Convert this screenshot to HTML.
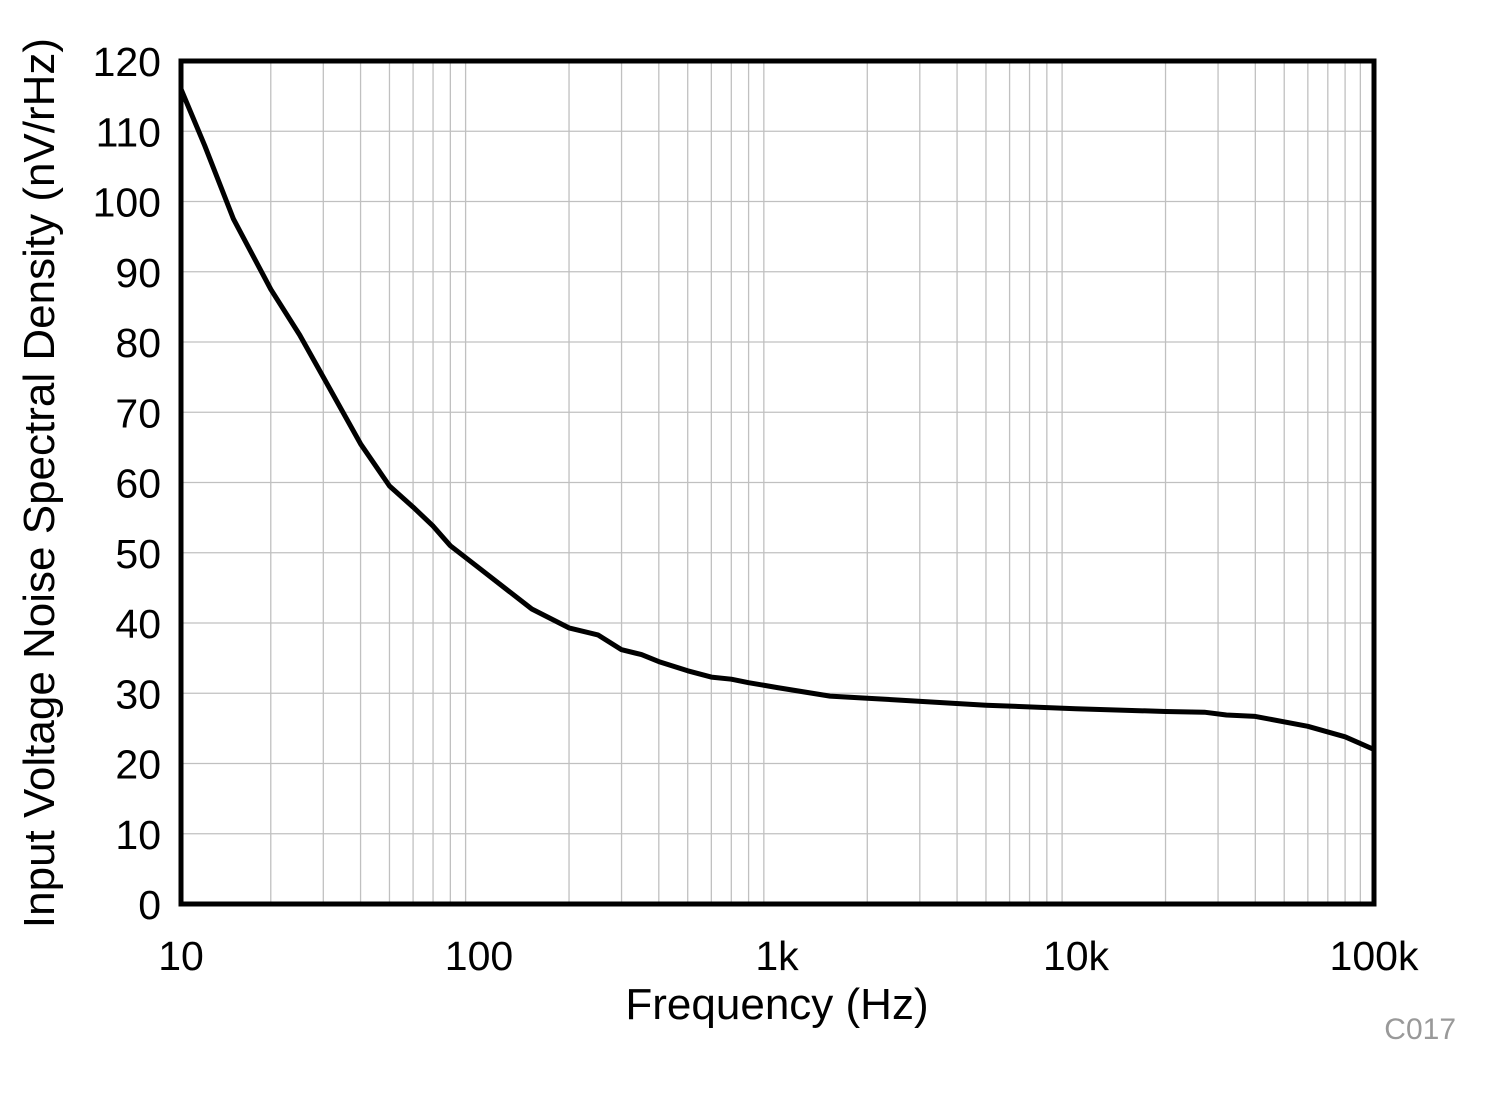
<!DOCTYPE html>
<html><head><meta charset="utf-8"><style>
body{margin:0;background:#fff;}
svg text{font-family:"Liberation Sans",Arial,sans-serif;}
</style></head><body>
<svg id="s" width="1488" height="1090" xmlns="http://www.w3.org/2000/svg">
<g id="grid" stroke="#c0c0c0" stroke-width="1.3"></g>
<path id="curve" fill="none" stroke="#000" stroke-width="5" stroke-linejoin="round"/>
<rect x="181" y="61" width="1193" height="843" fill="none" stroke="#000" stroke-width="5"/>
<g font-size="41" fill="#000" text-anchor="end" id="yl"></g>
<g font-size="41" fill="#000" text-anchor="middle">
<text x="181" y="970">10</text><text x="479" y="970">100</text><text x="777" y="970">1k</text><text x="1076" y="970">10k</text><text x="1374" y="970">100k</text>
<text x="777" y="1019" font-size="44">Frequency (Hz)</text>
<text transform="translate(54,483) rotate(-90)" font-size="44">Input Voltage Noise Spectral Density (nV/rHz)</text>
</g>
<text x="1456" y="1039" font-size="30" fill="#999" text-anchor="end">C017</text>
</svg>
<script>
var X=function(f){return 181+298.25*Math.log10(f/10)},Y=function(v){return 904-7.025*v};
var g=document.getElementById('grid'),h='';
for(var d=10;d<100000;d*=10)for(var m=2;m<=9;m++){var x=X(d*m);h+='<line x1="'+x+'" y1="61" x2="'+x+'" y2="904"/>';}
for(var v=10;v<120;v+=10){h+='<line x1="181" y1="'+Y(v)+'" x2="1374" y2="'+Y(v)+'"/>';}
g.innerHTML=h;
var yl='';for(var v=0;v<=120;v+=10)yl+='<text x="161" y="'+(Y(v)+15)+'">'+v+'</text>';
document.getElementById('yl').innerHTML=yl;
var p=[[10,116],[12,108],[15,97.5],[20,87.5],[25,81],[30,75],[40,65.5],[50,59.5],[60,56.5],[70,53.8],[80,51],[100,47.8],[150,42],[200,39.3],[250,38.3],[300,36.2],[350,35.5],[400,34.5],[500,33.2],[600,32.3],[700,32],[800,31.5],[1000,30.8],[1500,29.6],[2000,29.3],[5000,28.3],[10000,27.8],[20000,27.4],[27000,27.3],[32000,26.9],[40000,26.7],[60000,25.3],[80000,23.8],[100000,22]];
var d='';p.forEach(function(q,i){d+=(i?'L':'M')+X(q[0]).toFixed(1)+' '+Y(q[1]).toFixed(1)});
document.getElementById('curve').setAttribute('d',d);
</script>
</body></html>
